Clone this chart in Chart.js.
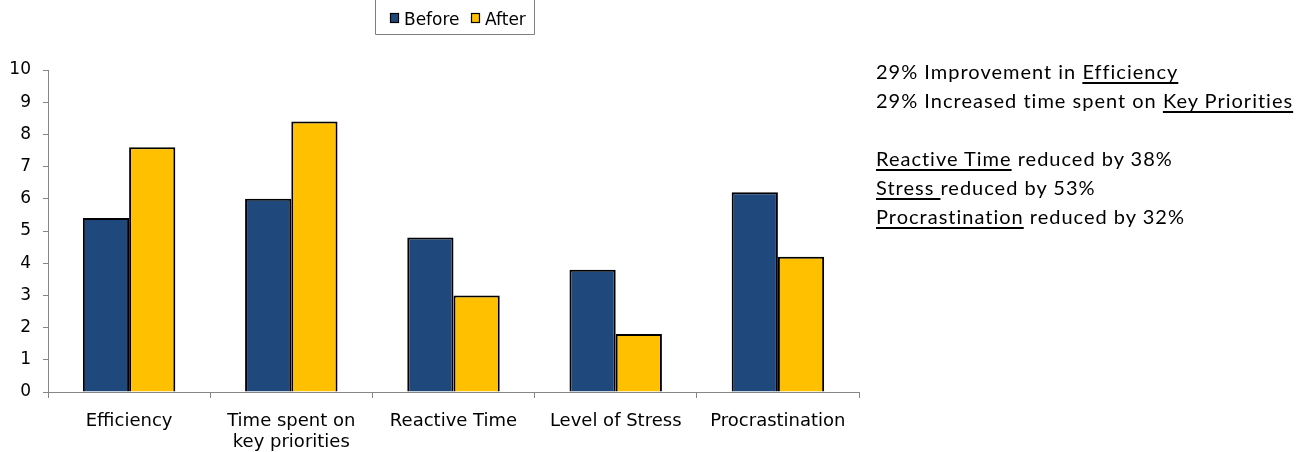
<!DOCTYPE html>
<html>
<head>
<meta charset="utf-8">
<script src="https://cdn.jsdelivr.net/npm/chart.js@4.4.1/dist/chart.umd.min.js"></script>
<style>
  html, body { margin: 0; padding: 0; background: #fff; }
  #wrap { position: relative; width: 1304px; height: 452px; }
  #notes {
    position: absolute; left: 876px; top: 57px;
    font-family: Lato, "Open Sans", sans-serif; font-size: 20px; line-height: 29px;
    letter-spacing: 1px; color: #000; white-space: nowrap;
  }
  #notes u { text-underline-offset: 3px; text-decoration-thickness: 1.5px; }
</style>
</head>
<body>
<div id="wrap">
  <canvas id="c" width="1304" height="452"></canvas>
  <div id="notes">
    29% Improvement in <u>Efficiency</u><br>
    29% Increased time spent on <u>Key Priorities</u><br>
    <br>
    <u>Reactive Time</u> reduced by 38%<br>
    <u>Stress </u>reduced by 53%<br>
    <u>Procrastination</u> reduced by 32%
  </div>
</div>
<script>
// Survey scores (0-10) before and after the programme
const categories = ['Efficiency', ['Time spent on', 'key priorities'], 'Reactive Time', 'Level of Stress', 'Procrastination'];
const beforeValues = [5.4, 6.0, 4.8, 3.8, 6.2];
const afterValues = [7.6, 8.4, 3.0, 1.8, 4.2];
const yTicks = [0, 1, 2, 3, 4, 5, 6, 7, 8, 9, 10];

const BLUE = '#1F497D';
const GOLD = '#FFC000';
const AXIS = '#868686';
const FONT = "'DejaVu Sans', sans-serif";

// Framed legend drawn above the plot
const framedLegend = {
  id: 'framedLegend',
  afterDraw(chart) {
    const ctx = chart.ctx;
    ctx.save();
    ctx.strokeStyle = '#7f7f7f';
    ctx.lineWidth = 1;
    ctx.beginPath();
    ctx.moveTo(375.5, -2);
    ctx.lineTo(375.5, 34.5);
    ctx.lineTo(534.5, 34.5);
    ctx.lineTo(534.5, -2);
    ctx.stroke();
    ctx.font = '17px ' + FONT;
    ctx.textBaseline = 'alphabetic';
    const xs = [390, 471];
    chart.data.datasets.forEach((ds, i) => {
      const x = xs[i];
      ctx.fillStyle = ds.backgroundColor;
      ctx.fillRect(x, 13, 9, 10);
      ctx.strokeStyle = '#000';
      ctx.lineWidth = 1.2;
      ctx.strokeRect(x + 0.5, 13.5, 8, 9);
      ctx.fillStyle = '#000';
      ctx.fillText(ds.label, x + 14, 25);
    });
    ctx.restore();
  }
};

new Chart(document.getElementById('c'), {
  type: 'bar',
  data: {
    labels: categories,
    datasets: [
      { label: 'Before', data: beforeValues, backgroundColor: BLUE, borderColor: '#000', borderWidth: 2 },
      { label: 'After', data: afterValues, backgroundColor: GOLD, borderColor: '#000', borderWidth: 2 }
    ]
  },
  options: {
    responsive: false,
    animation: false,
    layout: { padding: { top: 70, right: 445, left: 0, bottom: 0 } },
    plugins: { legend: { display: false }, tooltip: { enabled: false } },
    datasets: { bar: { categoryPercentage: 0.57, barPercentage: 1.0 } },
    scales: {
      x: {
        offset: true,
        grid: { display: true, drawOnChartArea: false, offset: true, tickLength: 6, color: AXIS },
        border: { display: true, color: AXIS, width: 1 },
        ticks: { color: '#000', font: { family: FONT, size: 18, lineHeight: 1.15 }, padding: 13, maxRotation: 0, autoSkip: false },
        afterFit(scale) { scale.height = 60; }
      },
      y: {
        min: 0,
        max: 10,
        afterBuildTicks(scale) { scale.ticks = yTicks.map(v => ({ value: v })); },
        grid: { display: true, drawOnChartArea: false, tickLength: 5, color: AXIS },
        border: { display: true, color: AXIS, width: 1 },
        ticks: { color: '#000', font: { family: FONT, size: 17 }, padding: 12 },
        afterFit(scale) { scale.width = 48; }
      }
    }
  },
  plugins: [framedLegend]
});
</script>
</body>
</html>
